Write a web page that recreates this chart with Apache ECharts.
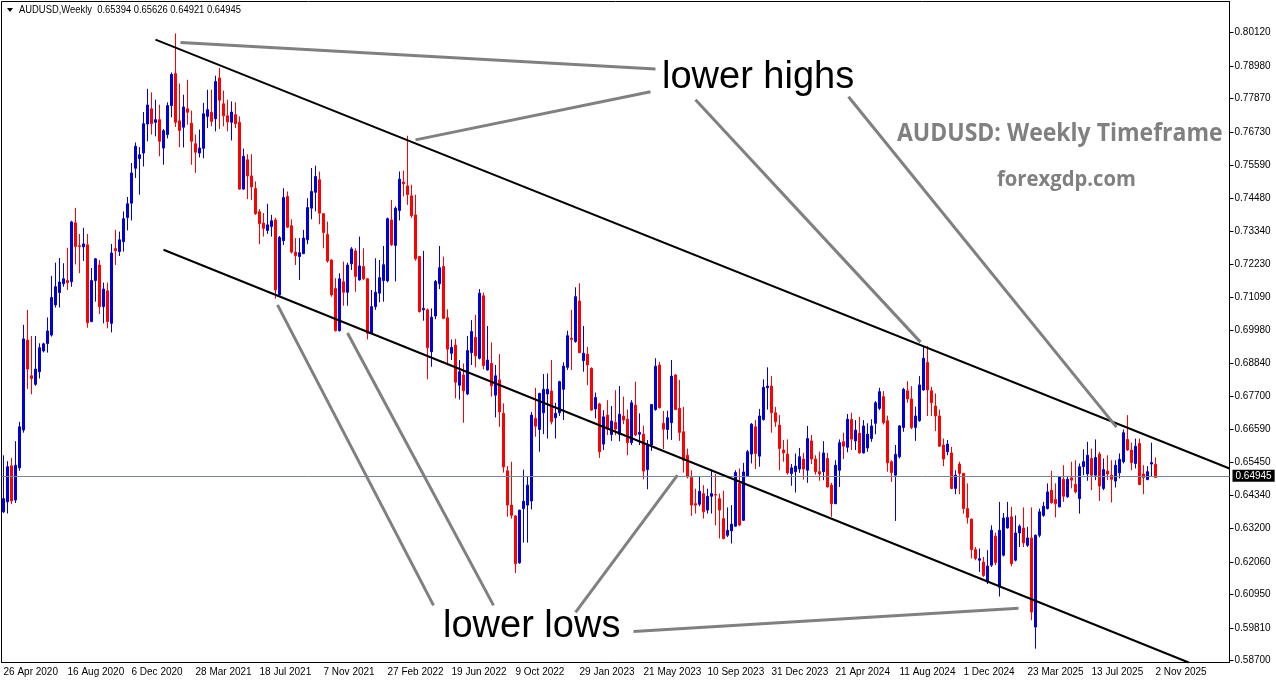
<!DOCTYPE html>
<html><head><meta charset="utf-8">
<script src="https://cdn.jsdelivr.net/npm/echarts@6/dist/echarts.min.js"></script>
<style>html,body{margin:0;padding:0;background:#fff}#c{width:1276px;height:684px}</style>
</head><body><div id="c"></div>
<script>
// ---------------- DATA ----------------
const startDate = [2020, 3, 26];      // 26 Apr 2020 (first weekly candle)
const weekCount = 307;                // weekly slots on the axis (incl. empty right margin)
const labelEvery = 16;                // a date label every 16 weeks

const opens = [
.6377,.6411,.6534,.6417,.6527,.6656,.6963,.6841,.6812,.6855,
.6926,.6951,.6980,.7083,.7125,.7155,.7166,.7162,.7363,.7285,
.7281,.7288,.7026,.7166,.7219,.7077,.7131,.7020,.7275,.7265,
.7299,.7381,.7430,.7549,.7582,.7601,.7700,.7752,.7706,.7715,
.7618,.7664,.7763,.7872,.7711,.7689,.7752,.7703,.7633,.7601,
.7617,.7726,.7740,.7718,.7857,.7769,.7728,.7706,.7732,.7706,
.7478,.7578,.7523,.7480,.7401,.7362,.7337,.7350,.7373,.7117,
.7302,.7453,.7353,.7263,.7248,.7258,.7305,.7413,.7467,.7510,
.7394,.7323,.7236,.7139,.6995,.7162,.7126,.7223,.7267,.7168,
.7214,.7172,.6986,.7077,.7123,.7166,.7165,.7373,.7286,.7405,
.7502,.7489,.7455,.7390,.7248,.7066,.7066,.6923,.7045,.7155,
.7214,.7039,.6918,.6946,.6809,.6844,.6779,.6920,.6972,.6901,
.7114,.6861,.6883,.6775,.6827,.6713,.6517,.6400,.6363,.6203,
.6388,.6400,.6414,.6696,.6658,.6715,.6779,.6789,.6698,.6715,
.6795,.6870,.6969,.6958,.7096,.6893,.6915,.6866,.6728,.6745,
.6608,.6707,.6641,.6682,.6641,.6704,.6693,.6613,.6741,.6642,
.6642,.6521,.6605,.6726,.6878,.6679,.6658,.6681,.6844,.6730,
.6650,.6570,.6494,.6405,.6403,.6439,.6383,.6430,.6436,.6422,
.6354,.6297,.6312,.6328,.6474,.6348,.6499,.6574,.6667,.6567,
.6692,.6801,.6806,.6715,.6673,.6588,.6574,.6508,.6514,.6523,
.6557,.6519,.6619,.6557,.6514,.6514,.6559,.6468,.6405,.6519,
.6616,.6597,.6692,.6619,.6645,.6578,.6595,.6627,.6679,.6730,
.6770,.6688,.6548,.6502,.6565,.6665,.6790,.6762,.6665,.6688,
.6793,.6887,.6790,.6738,.6704,.6605,.6582,.6578,.6457,.6540,
.6508,.6388,.6352,.6248,.6212,.6206,.6138,.6195,.6294,.6120,
.6229,.6322,.6360,.6212,.6305,.6322,.6263,.6288,.5984,.6297,
.6365,.6388,.6451,.6419,.6394,.6488,.6428,.6493,.6471,.6422,
.6531,.6506,.6559,.6502,.6574,.6457,.6516,.6502,.6482,.6510,
.6548,.6624,.6588,.6542,.6610,.6506,.6487,.6540,.65394];

const highs = [
.6570,.6550,.6561,.6618,.6684,.7015,.7066,.6977,.6977,.6952,
.6954,.7040,.7182,.7227,.7243,.7225,.7278,.7370,.7414,.7325,
.7346,.7325,.7209,.7243,.7236,.7159,.7159,.7291,.7339,.7333,
.7402,.7451,.7567,.7637,.7621,.7741,.7820,.7808,.7783,.7766,
.7683,.7774,.7876,.8009,.7838,.7800,.7851,.7746,.7664,.7681,
.7772,.7817,.7817,.7865,.7891,.7814,.7783,.7777,.7774,.7726,
.7616,.7597,.7597,.7504,.7410,.7396,.7428,.7390,.7380,.7318,
.7481,.7470,.7375,.7311,.7311,.7339,.7447,.7550,.7558,.7538,
.7396,.7367,.7238,.7174,.7191,.7231,.7227,.7280,.7276,.7316,
.7276,.7174,.7134,.7242,.7236,.7284,.7381,.7441,.7419,.7538,
.7541,.7660,.7493,.7459,.7250,.7267,.7071,.7071,.7168,.7284,
.7248,.7068,.6965,.6967,.6895,.6883,.6977,.7031,.7049,.7137,
.7125,.7011,.6955,.6878,.6915,.6747,.6533,.6548,.6366,.6383,
.6521,.6496,.6718,.6800,.6783,.6847,.6849,.6895,.6749,.6824,
.6887,.6995,.7066,.7143,.7157,.7011,.6940,.6870,.6784,.6749,
.6724,.6758,.6738,.6792,.6806,.6770,.6726,.6758,.6821,.6713,
.6671,.6622,.6745,.6901,.6889,.6721,.6722,.6895,.6847,.6827,
.6735,.6593,.6519,.6456,.6496,.6468,.6456,.6519,.6506,.6439,
.6449,.6392,.6400,.6519,.6525,.6544,.6588,.6680,.6690,.6728,
.6829,.6870,.6840,.6735,.6707,.6622,.6624,.6540,.6576,.6595,
.6578,.6670,.6639,.6570,.6582,.6618,.6578,.6476,.6553,.6624,
.6647,.6711,.6715,.6690,.6701,.6690,.6679,.6693,.6755,.6800,
.6789,.6705,.6553,.6605,.6673,.6800,.6823,.6806,.6736,.6840,
.6941,.6943,.6804,.6781,.6726,.6627,.6622,.6599,.6519,.6548,
.6510,.6474,.6354,.6257,.6252,.6223,.6246,.6331,.6306,.6411,
.6373,.6411,.6394,.6365,.6334,.6392,.6326,.6392,.6300,.6388,
.6411,.6474,.6517,.6474,.6499,.6536,.6496,.6548,.6553,.6542,
.6590,.6616,.6593,.6624,.6582,.6559,.6570,.6553,.6553,.6576,
.6658,.6707,.6613,.6627,.6627,.6536,.6533,.6613,.65626];

const lows = [
.6373,.6371,.6403,.6407,.6517,.6647,.6796,.6778,.6807,.6832,
.6921,.6920,.6975,.7074,.7074,.7145,.7134,.7145,.7221,.7191,
.7233,.7005,.7024,.7094,.7052,.7020,.7003,.6989,.7219,.7250,
.7265,.7337,.7371,.7516,.7459,.7555,.7641,.7664,.7658,.7590,
.7561,.7651,.7723,.7690,.7621,.7620,.7698,.7561,.7533,.7586,
.7583,.7686,.7692,.7675,.7683,.7692,.7675,.7644,.7686,.7476,
.7476,.7444,.7441,.7390,.7290,.7316,.7325,.7316,.7104,.7116,
.7287,.7345,.7258,.7219,.7168,.7256,.7290,.7375,.7402,.7358,
.7276,.7227,.7111,.6992,.6992,.7080,.7080,.7202,.7128,.7166,
.7168,.6965,.6984,.7066,.7092,.7094,.7160,.7284,.7163,.7371,
.7453,.7424,.7380,.7234,.7057,.7029,.6829,.6872,.7034,.7137,
.7034,.6883,.6895,.6764,.6760,.6681,.6775,.6878,.6870,.6897,
.6863,.6859,.6770,.6699,.6667,.6511,.6360,.6354,.6168,.6200,
.6272,.6272,.6385,.6633,.6582,.6642,.6627,.6675,.6627,.6704,
.6690,.6861,.6861,.6954,.6918,.6855,.6809,.6722,.6696,.6561,
.6588,.6639,.6619,.6639,.6618,.6676,.6570,.6605,.6635,.6605,
.6488,.6454,.6585,.6722,.6730,.6591,.6624,.6622,.6724,.6619,
.6511,.6491,.6363,.6371,.6396,.6354,.6371,.6371,.6331,.6286,
.6283,.6291,.6269,.6326,.6328,.6346,.6496,.6542,.6523,.6531,
.6688,.6726,.6647,.6667,.6519,.6548,.6504,.6466,.6443,.6510,
.6487,.6476,.6540,.6504,.6483,.6485,.6460,.6360,.6403,.6462,
.6557,.6580,.6588,.6588,.6576,.6576,.6582,.6616,.6642,.6724,
.6675,.6514,.6479,.6346,.6559,.6650,.6749,.6659,.6619,.6684,
.6790,.6704,.6704,.6652,.6599,.6533,.6570,.6454,.6437,.6437,
.6371,.6337,.6218,.6212,.6172,.6155,.6131,.6189,.6195,.6088,
.6225,.6320,.6191,.6208,.6257,.6257,.6257,.6007,.5910,.6290,
.6360,.6385,.6405,.6358,.6392,.6411,.6425,.6457,.6440,.6371,
.6502,.6483,.6451,.6485,.6414,.6451,.6485,.6409,.6460,.6491,
.6542,.6585,.6519,.6525,.6468,.6437,.6485,.6496,.64921];

const closes = [
.6422,.6531,.6414,.6536,.6667,.6967,.6864,.6832,.6864,.6937,
.6950,.6994,.7108,.7145,.7161,.7172,.7159,.7366,.7282,.7282,
.7291,.7022,.7166,.7240,.7077,.7137,.7026,.7260,.7268,.7305,
.7377,.7428,.7533,.7624,.7595,.7701,.7765,.7701,.7715,.7641,
.7677,.7763,.7869,.7706,.7678,.7758,.7740,.7641,.7604,.7618,
.7735,.7749,.7709,.7845,.7781,.7728,.7707,.7741,.7701,.7478,
.7590,.7523,.7485,.7394,.7360,.7344,.7356,.7370,.7134,.7313,
.7449,.7348,.7263,.7251,.7261,.7311,.7415,.7470,.7521,.7396,
.7330,.7233,.7117,.6995,.7172,.7126,.7219,.7274,.7180,.7216,
.7172,.6986,.7077,.7126,.7176,.7220,.7377,.7288,.7413,.7512,
.7496,.7459,.7387,.7240,.7060,.7071,.6937,.7041,.7163,.7210,
.7037,.6932,.6938,.6819,.6855,.6790,.6927,.6992,.6909,.7123,
.6876,.6895,.6807,.6841,.6718,.6530,.6400,.6365,.6200,.6383,
.6413,.6468,.6707,.6669,.6781,.6795,.6795,.6684,.6713,.6821,
.6874,.6978,.6965,.7111,.6920,.6918,.6878,.6724,.6767,.6582,
.6701,.6659,.6687,.6659,.6710,.6690,.6613,.6749,.6639,.6648,
.6516,.6607,.6743,.6874,.6732,.6659,.6698,.6840,.6726,.6648,
.6553,.6496,.6400,.6400,.6447,.6377,.6430,.6439,.6434,.6383,
.6286,.6314,.6335,.6511,.6332,.6513,.6582,.6676,.6576,.6704,
.6802,.6806,.6715,.6684,.6593,.6578,.6510,.6527,.6533,.6565,
.6523,.6627,.6557,.6514,.6506,.6578,.6462,.6405,.6536,.6613,
.6601,.6693,.6625,.6656,.6578,.6670,.6642,.6670,.6749,.6787,
.6681,.6544,.6511,.6573,.6670,.6795,.6762,.6665,.6704,.6810,
.6901,.6793,.6749,.6704,.6601,.6557,.6608,.6457,.6502,.6508,
.6388,.6358,.6248,.6218,.6217,.6160,.6192,.6314,.6204,.6314,
.6356,.6358,.6200,.6305,.6328,.6271,.6288,.6035,.6297,.6377,
.6396,.6445,.6408,.6405,.6496,.6430,.6488,.6485,.6445,.6531,
.6548,.6570,.6502,.6562,.6465,.6521,.6506,.6488,.6536,.6556,
.6647,.6588,.6545,.6601,.6470,.6494,.6514,.6545,.64945];

const yTicks = [0.80120,0.78980,0.77870,0.76730,0.75590,0.74480,0.73340,0.72230,0.71090,
  0.69980,0.68840,0.67700,0.66590,0.65450,0.64340,0.63200,0.62060,0.60950,0.59810,0.58700];
const yMin = 0.5863, yMax = 0.8118;
const lastPrice = 0.64945;
const headerText = 'AUDUSD,Weekly  0.65394 0.65626 0.64921 0.64945';

// trend lines: [weekIndex, price] end points
const channelLines = [
  [[38.0, 0.7988], [306.5, 0.6525]],
  [[40.0, 0.7271], [296.3, 0.5863]]
];
const pointerLines = [
  [[44.25, 0.7978], [163.0, 0.7888]],
  [[103.0, 0.7646], [161.75, 0.7810]],
  [[173.0, 0.7783], [229.25, 0.6956]],
  [[211.25, 0.7793], [278.25, 0.6666]],
  [[68.5, 0.7083], [107.5, 0.6058]],
  [[86.0, 0.6987], [122.5, 0.6058]],
  [[143.0, 0.6034], [168.5, 0.6502]],
  [[157.5, 0.5969], [253.75, 0.6048]]
];

// ---------------- CHART ----------------
const MON = ['Jan','Feb','Mar','Apr','May','Jun','Jul','Aug','Sep','Oct','Nov','Dec'];
const t0 = Date.UTC(startDate[0], startDate[1], startDate[2]);
const cats = [];
for (let i = 0; i < weekCount; i++) {
  const d = new Date(t0 + i * 7 * 86400000);
  cats.push(d.getUTCDate() + ' ' + MON[d.getUTCMonth()] + ' ' + d.getUTCFullYear());
}
const lastIdx = opens.length - 1;
const candles = opens.map((o, i) => [o, closes[i], lows[i], highs[i]]);
const UP = '#0000d8', DOWN = '#ff0000';
const showIdx = (i) => i % labelEvery === 0 && i <= lastIdx;

const lineSeries = [];
channelLines.forEach(seg => lineSeries.push({
  type: 'line', xAxisIndex: 1, yAxisIndex: 0, data: seg, symbol: 'none', silent: true,
  lineStyle: { color: '#000', width: 2 }, z: 5
}));
pointerLines.forEach(seg => lineSeries.push({
  type: 'line', xAxisIndex: 1, yAxisIndex: 0, data: seg, symbol: 'none', silent: true,
  lineStyle: { color: '#808080', width: 3 }, z: 6
}));

const chart = echarts.init(document.getElementById('c'), null, { renderer: 'canvas' });
chart.setOption({
  animation: false,
  backgroundColor: '#fff',
  grid: { left: 1.5, right: 46.5, top: 1.5, bottom: 21.5, show: true, borderColor: '#000', borderWidth: 1 },
  xAxis: [{
    type: 'category', data: cats, boundaryGap: true,
    axisLine: { onZero: false, lineStyle: { color: '#000', width: 1 } },
    axisTick: { alignWithLabel: true, interval: (i) => showIdx(i), length: 4, lineStyle: { color: '#000' } },
    axisLabel: { interval: (i) => showIdx(i), align: 'left', margin: 5, color: '#000',
      fontSize: 10, fontFamily: 'Liberation Sans', hideOverlap: false },
    splitLine: { show: false }
  }, {
    type: 'value', min: -0.5, max: weekCount - 0.5, show: false,
    axisLine: { onZero: false }
  }],
  yAxis: [{
    type: 'value', position: 'right', min: yMin, max: yMax,
    axisLine: { show: true, onZero: false, lineStyle: { color: '#000' } },
    axisTick: { show: true, customValues: yTicks, length: 4, lineStyle: { color: '#000' } },
    axisLabel: { customValues: yTicks, formatter: v => v.toFixed(5), color: '#000',
      fontSize: 10, fontFamily: 'Liberation Sans', margin: 5 },
    splitLine: { show: false }
  }],
  series: [{
    type: 'candlestick', data: candles, barWidth: 2, z: 2,
    itemStyle: { color: UP, color0: DOWN, borderColor: UP, borderColor0: DOWN, borderWidth: 1 },
    markLine: {
      silent: true, symbol: 'none',
      label: { show: true, position: 'end', distance: 3, formatter: () => lastPrice.toFixed(5),
        color: '#fff', backgroundColor: '#000', padding: [1, 3, 1, 3],
        fontSize: 10, fontFamily: 'Liberation Sans' },
      lineStyle: { color: '#778899', width: 1, type: 'solid' },
      data: [{ yAxis: lastPrice }]
    }
  }].concat(lineSeries),
  graphic: [
    { type: 'polygon', shape: { points: [[7, 8], [13, 8], [10, 12]] }, style: { fill: '#000' } },
    { type: 'text', x: 19, y: 10, scaleX: 0.94,
      style: { text: headerText, font: '10px "Liberation Sans"', fill: '#000', verticalAlign: 'middle' } },
    { type: 'text', x: 662, y: 78,
      style: { text: 'lower highs', font: '38px "Liberation Sans"', fill: '#000', verticalAlign: 'middle' } },
    { type: 'text', x: 443, y: 627,
      style: { text: 'lower lows', font: '38px "Liberation Sans"', fill: '#000', verticalAlign: 'middle' } },
    { type: 'text', x: 897, y: 134, scaleX: 0.92,
      style: { text: 'AUDUSD: Weekly Timeframe', font: 'bold 25px "Open Sans"', fill: '#808080', verticalAlign: 'middle' } },
    { type: 'text', x: 997, y: 180, scaleX: 0.92,
      style: { text: 'forexgdp.com', font: 'bold 22px "Open Sans"', fill: '#808080', verticalAlign: 'middle' } }
  ]
});
</script>
</body></html>
